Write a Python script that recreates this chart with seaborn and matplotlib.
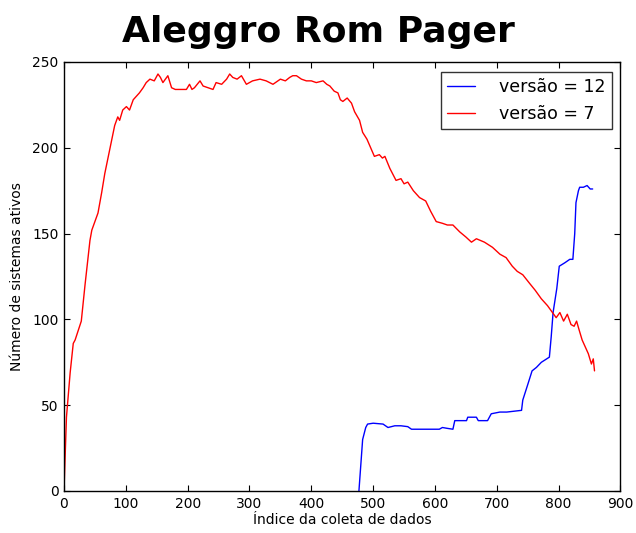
import numpy as np
import pandas as pd
import matplotlib
matplotlib.use("Agg")
import matplotlib.pyplot as plt
import seaborn as sns

# ---- data ----
red_x = [0, 4, 10, 15, 18, 28, 34, 42, 45, 55, 61, 66, 74, 82, 87, 90, 95, 101, 106,
         112, 117, 122, 128, 133, 139, 146, 152, 156, 160, 164, 168, 174, 180, 187,
         198, 203, 207, 211, 220, 225, 233, 241, 246, 255, 263, 268, 273, 280, 287,
         295, 305, 317, 327, 338, 350, 358, 365, 370, 376, 384, 392, 400, 408, 419,
         425, 430, 437, 443, 447, 451, 458, 465, 470, 478, 483, 490, 496, 502, 510,
         515, 519, 527, 537, 545, 550, 556, 565, 575, 585, 593, 602, 612, 620, 629,
         640, 650, 659, 667, 680, 693, 705, 715, 725, 733, 742, 753, 762, 772, 782,
         790, 796, 802, 808, 814, 820, 825, 829, 833, 838, 843, 848, 853, 856, 858]
red_y = [0, 43, 69, 86, 88, 99, 120, 146, 152, 162, 174, 185, 199, 213, 218, 216, 222,
         224, 222, 228, 230, 232, 235, 238, 240, 239, 243, 241, 238, 240, 242, 235, 234,
         234, 234, 237, 234, 235, 239, 236, 235, 234, 238, 237, 240, 243, 241, 240, 242,
         237, 239, 240, 239, 237, 240, 239, 241, 242, 242, 240, 239, 239, 238, 239,
         237, 236, 233, 232, 228, 227, 229, 226, 221, 216, 209, 205, 200, 195, 196,
         194, 195, 188, 181, 182, 179, 180, 175, 171, 169, 163, 157, 156, 155, 155,
         151, 148, 145, 147, 145, 142, 138, 136, 131, 128, 126, 121, 117, 112, 108,
         104, 101, 104, 99, 103, 97, 96, 99, 94, 88, 84, 80, 74, 77, 70]

blue_x = [477, 483, 488, 491, 500, 516, 524, 535, 545, 556, 562, 585, 607, 612, 620,
          629, 632, 651, 653, 667, 670, 685, 691, 705, 716, 740, 742, 750, 757, 764,
          772, 785, 788, 791, 797, 801, 810, 818, 823, 826, 828, 832, 834, 840, 846,
          851, 855]
blue_y = [0, 30, 37, 39, 39.5, 39, 37, 38, 38, 37.5, 36, 36, 36, 37, 36.5,
          36, 41, 41, 43, 43, 41, 41, 45, 46, 46, 47, 53, 62, 70, 72,
          75, 78, 90, 104, 118, 131, 133, 135, 135, 150, 168, 175, 177, 177, 178,
          176, 176]

labels = ["versão = 12", "versão = 7"]
title = "Aleggro Rom Pager"
xlabel = "Índice da coleta de dados"
ylabel = "Número de sistemas ativos"

df = pd.concat([
    pd.DataFrame({"x": blue_x, "y": blue_y, "versao": labels[0]}),
    pd.DataFrame({"x": red_x, "y": red_y, "versao": labels[1]}),
], ignore_index=True)

sns.set_style("white")
plt.rcParams["font.family"] = ["DejaVu Sans"]
plt.rcParams["text.color"] = "black"
plt.rcParams["axes.labelcolor"] = "black"

fig = plt.figure(figsize=(6.36, 5.33), dpi=100)
ax = fig.add_axes([0.1006, 0.0788, 0.8750, 0.8049])

sns.lineplot(data=df, x="x", y="y", hue="versao", hue_order=labels,
             palette={labels[0]: "#0000ff", labels[1]: "#ff0000"},
             linewidth=1.0, sort=False, estimator=None, ax=ax)

ax.set_xlim(0, 900)
ax.set_ylim(0, 250)
ax.set_xticks(range(0, 901, 100))
ax.set_yticks(range(0, 251, 50))
for s in ax.spines.values():
    s.set_color("black")
    s.set_linewidth(1.0)
ax.tick_params(direction="in", length=4, width=0.8, top=True, right=True,
               bottom=True, left=True, labelsize=10, colors="black", pad=4)
ax.set_xlabel(xlabel, fontsize=10, labelpad=2, color="black")
ax.set_ylabel(ylabel, fontsize=10, labelpad=6, color="black")

fig.suptitle(title, fontsize=26, fontweight="bold", y=0.972, color="black")

leg = ax.legend(loc="upper right", fontsize=12.5, frameon=True, fancybox=False,
                edgecolor="black", handlelength=1.6, handletextpad=1.4,
                borderpad=0.35, borderaxespad=0,
                bbox_to_anchor=(0.984, 0.977))
leg.get_frame().set_linewidth(1.0)
for t in leg.get_texts():
    t.set_color("black")

fig.savefig("out.png", dpi=100, facecolor="white")
